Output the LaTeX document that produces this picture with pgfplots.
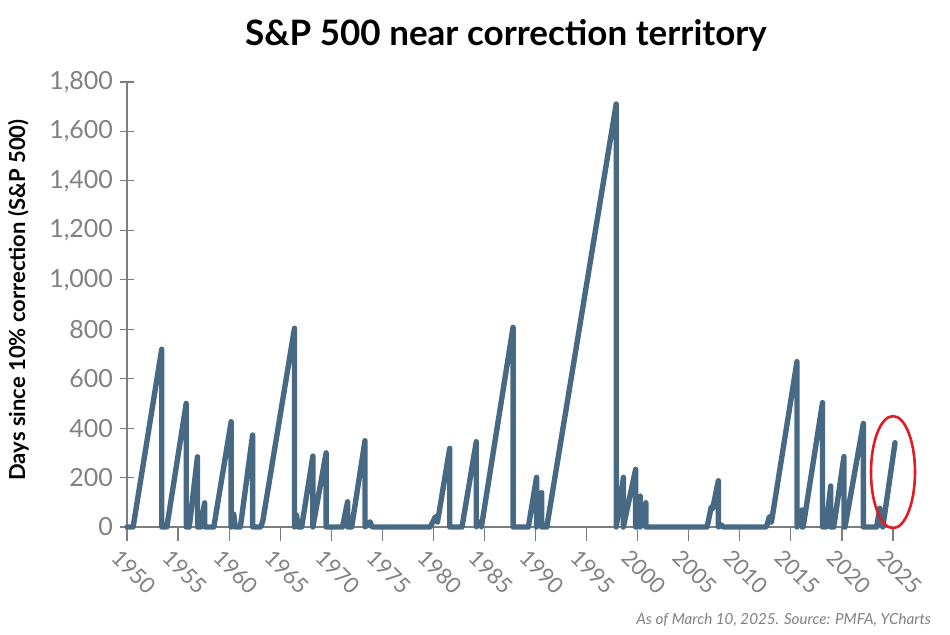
\documentclass[border=0pt]{standalone}
\usepackage{fontspec}
\setmainfont{Lato}
\usepackage{pgfplots}
\pgfplotsset{compat=1.18}
\definecolor{lineblue}{RGB}{72,105,131}
\definecolor{axgray}{RGB}{125,125,125}
\definecolor{txtgray}{RGB}{128,128,128}
\definecolor{circred}{RGB}{222,28,36}

\begin{document}
\begin{tikzpicture}
\begin{axis}[name=ax,scale only axis,width=383pt,height=222.5pt,
  xmin=1950,xmax=2025,ymin=0,ymax=1800,
  clip=false,
  axis x line*=bottom,axis y line*=left,
  axis line style={axgray,line width=0.6pt},
  xtick={1950,1955,...,2025},ytick={0,200,...,1800},
  x tick style={axgray,line width=0.6pt},y tick style={axgray,line width=0.6pt},
  xtick align=outside,ytick align=center,
  major tick length=7pt,
  /pgf/number format/assume math mode=true,
  tick label style={text=txtgray},
  xticklabel style={font=\fontsize{11}{13}\selectfont,/pgf/number format/1000 sep=,rotate=-45,anchor=north west,xshift=-3pt,yshift=-1pt},
  yticklabel style={font=\fontsize{12.5}{14}\selectfont,/pgf/number format/1000 sep={,}},
  ylabel={Days since 10\% correction (S\&P 500)},
  ylabel style={font=\fontsize{11}{13}\selectfont\bfseries,at={(axis description cs:-0.142,0.51)},anchor=center},
]
\addplot[lineblue,line width=2.7pt,line join=round,line cap=round] coordinates {
(1950.0,0)(1950.6,0)(1953.4,719)(1953.4,0)(1953.9,0)(1955.8,500)(1955.8,0)
(1956.1,0)(1956.9,284)(1956.9,0)(1957.2,0)(1957.6,98)(1957.6,0)(1958.5,0)
(1960.2,426)(1960.2,0)(1960.45,52)(1960.6,0)(1961.1,0)(1962.3,372)(1962.3,0)
(1963.1,0)(1963.3,25)(1966.4,804)(1966.4,0)(1966.6,48)(1966.75,0)(1967.1,0)
(1968.2,287)(1968.2,0)(1969.5,300)(1969.5,0)(1971.1,0)(1971.6,102)(1971.6,0)
(1972.0,0)(1973.3,349)(1973.3,0)(1973.8,21)(1974.0,0)(1979.7,0)(1980.2,42)
(1980.4,20)(1981.6,318)(1981.6,0)(1982.8,0)(1984.2,345)(1984.2,0)(1984.5,20)
(1984.7,0)(1987.8,808)(1987.8,0)(1989.3,0)(1990.1,201)(1990.1,0)(1990.6,139)
(1990.6,0)(1991.1,0)(1997.9,1711)(1997.9,0)(1998.6,201)(1998.6,0)(1999.8,233)
(1999.8,0)(2000.25,125)(2000.25,0)(2000.8,98)(2000.8,0)(2006.8,0)(2007.2,80)
(2007.35,75)(2007.9,187)(2007.9,0)(2008.2,8)(2008.4,0)(2012.6,0)(2012.9,42)
(2013.1,20)(2015.6,669)(2015.6,0)(2016.1,69)(2016.1,0)(2016.2,0)(2018.1,503)
(2018.1,0)(2018.45,0)(2018.9,166)(2018.9,0)(2019.2,0)(2020.2,285)(2020.2,0)
(2020.3,0)(2022.1,419)(2022.1,0)(2023.4,0)(2023.7,76)(2024.0,0)(2025.2,341)
};
\draw[circred,line width=1.3pt] (axis cs:2025.0,222) ellipse [x radius=11pt,y radius=28pt];
\end{axis}
\node[font=\fontsize{17.5}{20}\selectfont\bfseries] at ([shift={(189.5pt,246pt)}]ax.south west) {S\&P 500 near correction territory};
\node[font=\fontsize{7.6}{9}\selectfont\itshape,text=txtgray,anchor=east] at ([shift={(405.5pt,-46.5pt)}]ax.south west) {As of March 10, 2025. Source: PMFA, YCharts};
\pgfresetboundingbox
\path[use as bounding box] ([shift={(-63.5pt,-53.5pt)}]ax.south west) rectangle ([shift={(411.5pt,263.5pt)}]ax.south west);
\end{tikzpicture}
\end{document}
